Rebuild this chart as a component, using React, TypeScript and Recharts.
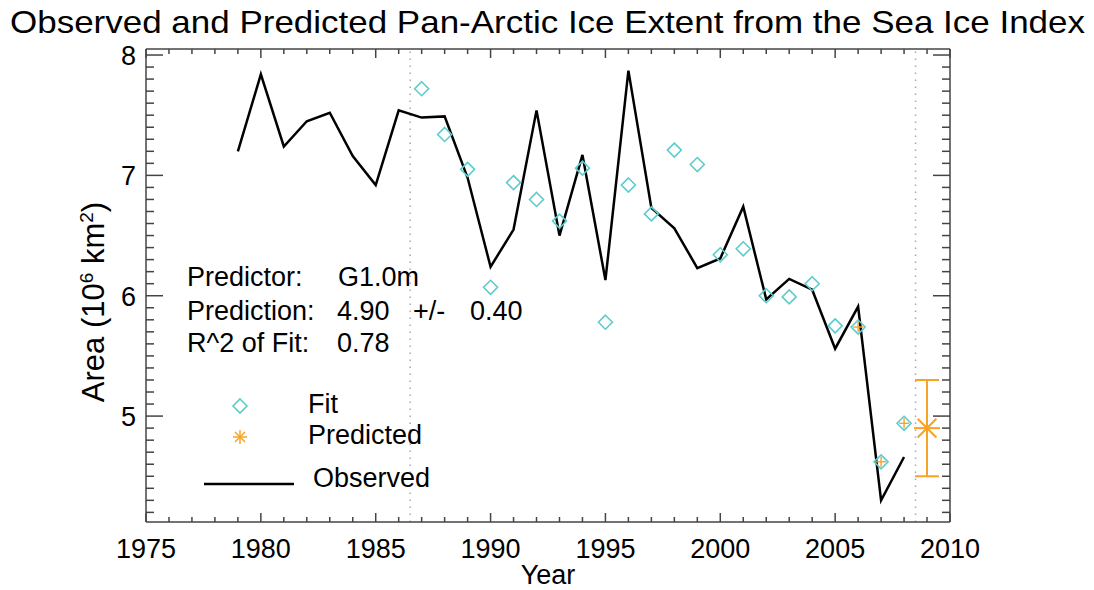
import React from 'react'
import { ComposedChart, Line, Scatter, XAxis, YAxis, ReferenceLine, ErrorBar, Legend } from 'recharts'

const FONT = '"Liberation Sans", Arial, Helvetica, sans-serif'
const CYAN = '#5ccccc'
const ORANGE = '#f7a325'
const AXIS = '#444'

// observed September extent, 10^6 km^2
const observedYears = [
  1979, 1980, 1981, 1982, 1983, 1984, 1985, 1986, 1987, 1988, 1989, 1990, 1991, 1992, 1993,
  1994, 1995, 1996, 1997, 1998, 1999, 2000, 2001, 2002, 2003, 2004, 2005, 2006, 2007, 2008,
]
const observedExtent = [
  7.2, 7.84, 7.24, 7.45, 7.52, 7.16, 6.92, 7.54, 7.48, 7.49, 6.98, 6.24, 6.55, 7.54, 6.5,
  7.17, 6.13, 7.87, 6.73, 6.56, 6.23, 6.31, 6.74, 5.97, 6.14, 6.05, 5.56, 5.91, 4.3, 4.66,
]

// regression fit
const fitYears = [
  1987, 1988, 1989, 1990, 1991, 1992, 1993, 1994, 1995, 1996, 1997, 1998, 1999, 2000, 2001,
  2002, 2003, 2004, 2005, 2006, 2007, 2008,
]
const fitExtent = [
  7.72, 7.34, 7.05, 6.07, 6.94, 6.8, 6.62, 7.06, 5.78, 6.92, 6.68, 7.21, 7.09, 6.34, 6.39,
  6.0, 5.99, 6.1, 5.75, 5.74, 4.62, 4.94,
]

// predicted from held-out years
const hindcastYears = [2006, 2007, 2008]
const hindcastExtent = [5.74, 4.62, 4.94]

const predictionYear = 2009
const predictionValue = 4.9
const predictionError = 0.4

const yearTicks = Array.from({ length: 36 }, (_, i) => 1975 + i)
const areaTicks = Array.from({ length: 39 }, (_, i) => Math.round(42 + i) / 10)

const observedData = observedYears.map((year, i) => ({ year, value: observedExtent[i] }))
const fitData = fitYears.map((year, i) => ({ year, value: fitExtent[i] }))
const hindcastData = hindcastYears.map((year, i) => ({ year, value: hindcastExtent[i] }))
const predictionData = [{ year: predictionYear, value: predictionValue, err: predictionError }]

function BoxTick(props: any) {
  const { x, y, payload, side } = props
  const v = payload.value as number
  const isX = side === 'bottom' || side === 'top'
  const major = isX ? v % 5 === 0 : Math.abs(v - Math.round(v)) < 1e-6
  const len = isX ? (major ? 9 : 5) : major ? 17 : 8
  let line
  if (side === 'bottom') line = <line x1={x} y1={y} x2={x} y2={y - len} />
  else if (side === 'top') line = <line x1={x} y1={y} x2={x} y2={y + len} />
  else if (side === 'left') line = <line x1={x} y1={y} x2={x + len} y2={y} />
  else line = <line x1={x} y1={y} x2={x - len} y2={y} />
  return (
    <g stroke={AXIS} strokeWidth={1.5}>
      {line}
      {major && side === 'bottom' && (
        <text x={x} y={y + 36} textAnchor="middle" fontSize={27} fill="#000" stroke="none" fontFamily={FONT}>
          {v}
        </text>
      )}
      {major && side === 'left' && (
        <text x={x - 10} y={y + 10} textAnchor="end" fontSize={27} fill="#000" stroke="none" fontFamily={FONT}>
          {v}
        </text>
      )}
    </g>
  )
}

function Diamond({ cx, cy }: any) {
  const r = 7
  return (
    <path
      d={`M${cx},${cy - r} L${cx + r},${cy} L${cx},${cy + r} L${cx - r},${cy} Z`}
      fill="none"
      stroke={CYAN}
      strokeWidth={1.6}
    />
  )
}

function Plus({ cx, cy }: any) {
  const r = 5
  return (
    <g stroke={ORANGE} strokeWidth={1.4}>
      <line x1={cx - r} y1={cy} x2={cx + r} y2={cy} />
      <line x1={cx} y1={cy - r} x2={cx} y2={cy + r} />
    </g>
  )
}

function Asterisk({ cx, cy, r = 13, w = 2 }: any) {
  const d = r * 0.72
  return (
    <g stroke={ORANGE} strokeWidth={w}>
      <line x1={cx - r} y1={cy} x2={cx + r} y2={cy} />
      <line x1={cx} y1={cy - r} x2={cx} y2={cy + r} />
      <line x1={cx - d} y1={cy - d} x2={cx + d} y2={cy + d} />
      <line x1={cx - d} y1={cy + d} x2={cx + d} y2={cy - d} />
    </g>
  )
}

function LegendBox() {
  return (
    <svg width={260} height={110} style={{ fontFamily: FONT }}>
      <Diamond cx={40} cy={21} />
      <text x={108} y={28} fontSize={27}>Fit</text>
      <Asterisk cx={40} cy={52} r={7} w={1.5} />
      <text x={108} y={59} fontSize={27}>Predicted</text>
      <line x1={4} y1={99} x2={94} y2={99} stroke="#000" strokeWidth={2.5} />
      <text x={113} y={102} fontSize={27}>Observed</text>
    </svg>
  )
}

export default function App() {
  return (
    <div style={{ position: 'absolute', left: 0, top: 0, width: 1094, height: 590, background: '#fff' }}>
      <ComposedChart
        width={1094}
        height={590}
        margin={{ top: 48, right: 143, bottom: 0, left: 0 }}
        style={{ fontFamily: FONT }}
      >
        <XAxis
          xAxisId="b"
          dataKey="year"
          type="number"
          domain={[1975, 2010]}
          allowDataOverflow
          ticks={yearTicks}
          interval={0}
          height={68}
          tickSize={0}
          tickMargin={0}
          tickLine={false}
          axisLine={{ stroke: AXIS, strokeWidth: 1.5 }}
          tick={(p: any) => <BoxTick {...p} side="bottom" />}
        />
        <XAxis
          xAxisId="t"
          orientation="top"
          dataKey="year"
          type="number"
          domain={[1975, 2010]}
          allowDataOverflow
          ticks={yearTicks}
          interval={0}
          height={1}
          tickSize={0}
          tickMargin={0}
          tickLine={false}
          axisLine={{ stroke: AXIS, strokeWidth: 1.5 }}
          tick={(p: any) => <BoxTick {...p} side="top" />}
        />
        <YAxis
          yAxisId="l"
          type="number"
          domain={[4.12, 8.05]}
          allowDataOverflow
          ticks={areaTicks}
          interval={0}
          width={146}
          tickSize={0}
          tickMargin={0}
          tickLine={false}
          axisLine={{ stroke: AXIS, strokeWidth: 1.5 }}
          tick={(p: any) => <BoxTick {...p} side="left" />}
        />
        <YAxis
          yAxisId="r"
          orientation="right"
          type="number"
          domain={[4.12, 8.05]}
          allowDataOverflow
          ticks={areaTicks}
          interval={0}
          width={1}
          tickSize={0}
          tickMargin={0}
          tickLine={false}
          axisLine={{ stroke: AXIS, strokeWidth: 1.5 }}
          tick={(p: any) => <BoxTick {...p} side="right" />}
        />
        <ReferenceLine xAxisId="b" yAxisId="l" x={1986.5} stroke="#aaa" strokeWidth={1.5} strokeDasharray="1.5 5.5" />
        <ReferenceLine xAxisId="b" yAxisId="l" x={2008.5} stroke="#aaa" strokeWidth={1.5} strokeDasharray="1.5 5.5" />
        {/* invisible copy so the top/right frame axes have data of their own */}
        <Line
          xAxisId="t"
          yAxisId="r"
          data={observedData}
          dataKey="value"
          stroke="none"
          dot={false}
          legendType="none"
          isAnimationActive={false}
        />
        <Line
          xAxisId="b"
          yAxisId="l"
          data={observedData}
          dataKey="value"
          name="Observed"
          stroke="#000"
          strokeWidth={2.5}
          dot={false}
          isAnimationActive={false}
        />
        <Scatter
          xAxisId="b"
          yAxisId="l"
          data={fitData}
          dataKey="value"
          name="Fit"
          shape={(p: any) => <Diamond cx={p.cx} cy={p.cy} />}
          isAnimationActive={false}
        />
        <Scatter
          xAxisId="b"
          yAxisId="l"
          data={hindcastData}
          dataKey="value"
          name="Predicted"
          shape={(p: any) => <Plus cx={p.cx} cy={p.cy} />}
          isAnimationActive={false}
        />
        <Scatter
          xAxisId="b"
          yAxisId="l"
          data={predictionData}
          dataKey="value"
          name="Prediction"
          shape={(p: any) => <Asterisk cx={p.cx} cy={p.cy} />}
          isAnimationActive={false}
        >
          <ErrorBar dataKey="err" direction="y" width={12} stroke={ORANGE} strokeWidth={2} />
        </Scatter>
        <Legend
          layout="vertical"
          align="center"
          verticalAlign="middle"
          wrapperStyle={{ left: 200, top: 385, width: 260, height: 110 }}
          content={() => <LegendBox />}
        />
      </ComposedChart>
      <svg
        width={1094}
        height={590}
        style={{ position: 'absolute', left: 0, top: 0, pointerEvents: 'none', fontFamily: FONT }}
      >
        <text x={10} y={33} fontSize={32} textLength={1075} lengthAdjust="spacingAndGlyphs">
          Observed and Predicted Pan-Arctic Ice Extent from the Sea Ice Index
        </text>
        <text x={548} y={584} fontSize={27} textAnchor="middle">Year</text>
        <text x={104} y={302} fontSize={31} textAnchor="middle" transform="rotate(-90 104 302)">
          Area (10<tspan fontSize={19} dy={-11}>6</tspan>
          <tspan dy={11}> km</tspan>
          <tspan fontSize={19} dy={-11}>2</tspan>
          <tspan dy={11}>)</tspan>
        </text>
        <g fontSize={27}>
          <text x={187} y={286}>Predictor:</text>
          <text x={338} y={286}>G1.0m</text>
          <text x={187} y={320}>Prediction:</text>
          <text x={337} y={320}>4.90</text>
          <text x={413} y={320}>+/-</text>
          <text x={470} y={320}>0.40</text>
          <text x={187} y={352}>R^2 of Fit:</text>
          <text x={337} y={352}>0.78</text>
        </g>
      </svg>
    </div>
  )
}
